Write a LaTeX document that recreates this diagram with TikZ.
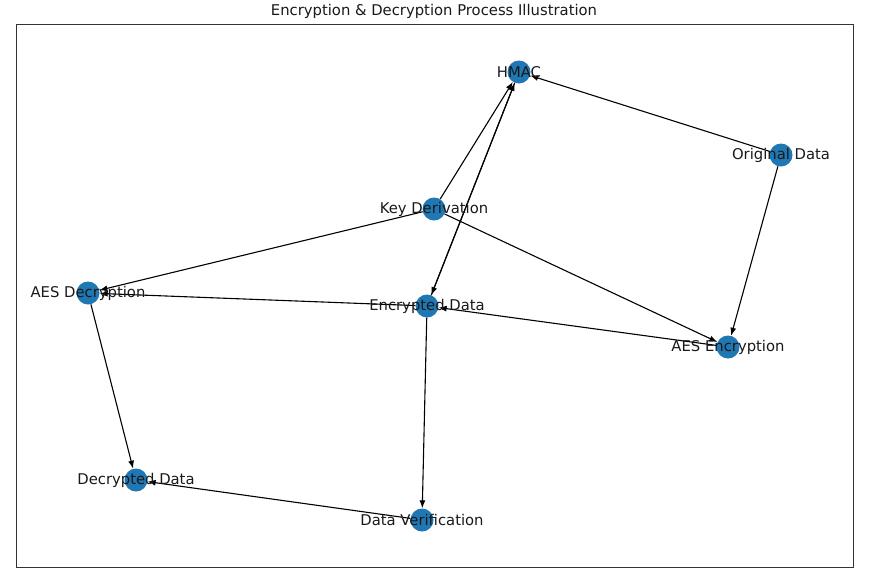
\documentclass[tikz,border=0pt]{standalone}
\usepackage{fontspec}
\setmainfont{DejaVu Sans}
\usetikzlibrary{arrows.meta}
\definecolor{nodeblue}{HTML}{1F77B4}
\newcommand{\Labels}{
    \node (hmaclbl) at (hmac) {HMAC};
    \node (odlbl) at (od) {Original Data};
    \node (kdlbl) at (kd) {Key Derivation};
    \node (declbl) at (aesdec) {AES Decryption};
    \node (edlbl) at (ed) {Encrypted Data};
    \node (enclbl) at (aesenc) {AES Encryption};
    \node (ddlbl) at (dd) {Decrypted Data};
    \node (dvlbl) at (dv) {Data Verification};
}

\begin{document}
\begin{tikzpicture}[x=1pt, y=-1pt,
    dot/.style={circle, fill=nodeblue, minimum size=23pt, inner sep=0pt},
    edge/.style={-{Latex[length=8pt,width=6pt]}, black, line width=1.1pt},
    every node/.style={font=\fontsize{14.8}{17}\selectfont, text=black!90}]
        \useasboundingbox (0,0) rectangle (872,581);
        \draw[black!80, line width=1pt] (16,24) rectangle (853,567);
        \node (title) at (434,11) {Encryption \& Decryption Process Illustration};
        \node[dot] (hmac) at (519,72) {};
        \node[dot] (od) at (781,155) {};
        \node[dot] (kd) at (434,209) {};
        \node[dot] (aesdec) at (88,293) {};
        \node[dot] (ed) at (427,306) {};
        \node[dot] (aesenc) at (728,347) {};
        \node[dot] (dd) at (136,480) {};
        \node[dot] (dv) at (422,520) {};
        \draw[edge] (od) -- (hmac);
        \draw[edge] (od) -- (aesenc);
        \draw[edge] (kd) -- (hmac);
        \draw[edge] (kd) -- (aesenc);
        \draw[edge] (kd) -- (aesdec);
        \draw[edge] (aesenc) -- (ed);
        \draw[edge] (ed) -- (hmac);
        \draw[edge] (hmac) -- (ed);
        \draw[edge] (ed) -- (aesdec);
        \draw[edge] (ed) -- (dv);
        \draw[edge] (aesdec) -- (dd);
        \draw[edge] (dv) -- (dd);
        \Labels
    \end{tikzpicture}
\end{document}
